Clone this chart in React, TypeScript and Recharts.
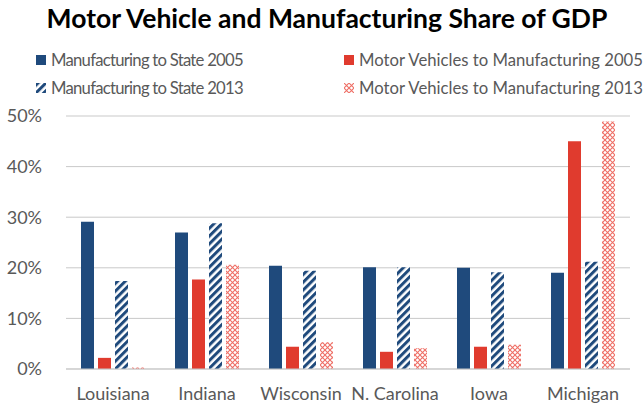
import React from 'react';
import { BarChart, Bar, XAxis, YAxis, CartesianGrid } from 'recharts';

const states = ['Louisiana', 'Indiana', 'Wisconsin', 'N. Carolina', 'Iowa', 'Michigan'];
const mfgState2005 = [29.1, 27.0, 20.4, 20.1, 20.0, 19.0];
const mvMfg2005 = [2.2, 17.7, 4.4, 3.4, 4.4, 45.0];
const mfgState2013 = [17.4, 28.8, 19.4, 20.1, 19.1, 21.2];
const mvMfg2013 = [0.3, 20.6, 5.3, 4.1, 4.8, 48.9];
const yTicks = [0, 10, 20, 30, 40, 50];

const NAVY = '#1f4a7c';
const RED = '#e03b2e';
const PINK = '#ef6f66';
const TEXT = '#595959';
const FONT = 'Lato, "Open Sans", sans-serif';

const data = states.map((s, i) => ({
    state: s,
    a: mfgState2005[i],
    b: mvMfg2005[i],
    c: mfgState2013[i],
    d: mvMfg2013[i],
}));

const legendItems = [
    { label: 'Manufacturing to State 2005', fill: NAVY, left: 36, top: 50, ls: -0.75 },
    { label: 'Motor Vehicles to Manufacturing 2005', fill: RED, left: 344, top: 50, ls: 0 },
    { label: 'Manufacturing to State 2013', fill: 'url(#hatchL)', left: 36, top: 78, ls: -0.75 },
    { label: 'Motor Vehicles to Manufacturing 2013', fill: 'url(#crossL)', left: 344, top: 78, ls: 0 },
];

// shared pattern defs (id suffix so the legend swatches get their own copy)
function Patterns({ suffix }: { suffix: string }) {
    return (
        <defs>
            <pattern id={`hatch${suffix}`} patternUnits="userSpaceOnUse" width="5.5" height="5.5" patternTransform="rotate(45)">
                <rect width="5.5" height="5.5" fill="#ffffff" />
                <rect width="3" height="5.5" fill={NAVY} />
            </pattern>
            <pattern id={`cross${suffix}`} patternUnits="userSpaceOnUse" width="5" height="5">
                <rect width="5" height="5" fill="#ffffff" />
                <path d="M0 0 L5 5 M5 0 L0 5" stroke={PINK} strokeWidth="1.1" />
            </pattern>
        </defs>
    );
}

export default function App() {
    return (
        <div style={{ position: 'absolute', left: 0, top: 0, width: 644, height: 404, background: '#fff', fontFamily: FONT }}>
            <div style={{ position: 'absolute', left: 0, top: 2, width: 654, textAlign: 'center', fontWeight: 700, fontSize: 26.5, color: '#000', whiteSpace: 'nowrap' }}>
                Motor Vehicle and Manufacturing Share of GDP
            </div>

            {legendItems.map((it) => (
                <div key={it.label} style={{ position: 'absolute', left: it.left, top: it.top, display: 'flex', alignItems: 'center', color: TEXT, fontSize: 16.7, letterSpacing: it.ls, whiteSpace: 'nowrap' }}>
                    <svg width={10} height={10} style={{ marginRight: 5 }}>
                        <Patterns suffix="L" />
                        <rect width={10} height={10} fill={it.fill} />
                    </svg>
                    {it.label}
                </div>
            ))}

            <div style={{ position: 'absolute', left: 0, top: 0 }}>
                <BarChart width={644} height={404} data={data} margin={{ top: 116, right: 14, bottom: 0, left: 0 }} barSize={13} barGap={4}>
                    <Patterns suffix="" />
                    <CartesianGrid vertical={false} stroke="#c9c9c9" />
                    <XAxis
                        dataKey="state"
                        height={35}
                        tickLine={false}
                        axisLine={{ stroke: '#c9c9c9' }}
                        tick={{ fill: TEXT, fontSize: 18, fontFamily: FONT }}
                        tickMargin={12}
                        interval={0}
                    />
                    <YAxis
                        width={66}
                        domain={[0, 50]}
                        ticks={yTicks}
                        tickFormatter={(v: number) => `${v}%`}
                        axisLine={false}
                        tickLine={false}
                        tick={{ fill: TEXT, fontSize: 18, fontFamily: FONT }}
                        tickMargin={18}
                    />
                    <Bar dataKey="a" fill={NAVY} isAnimationActive={false} />
                    <Bar dataKey="b" fill={RED} isAnimationActive={false} />
                    <Bar dataKey="c" fill="url(#hatch)" isAnimationActive={false} />
                    <Bar dataKey="d" fill="url(#cross)" isAnimationActive={false} />
                </BarChart>
            </div>
        </div>
    );
}
